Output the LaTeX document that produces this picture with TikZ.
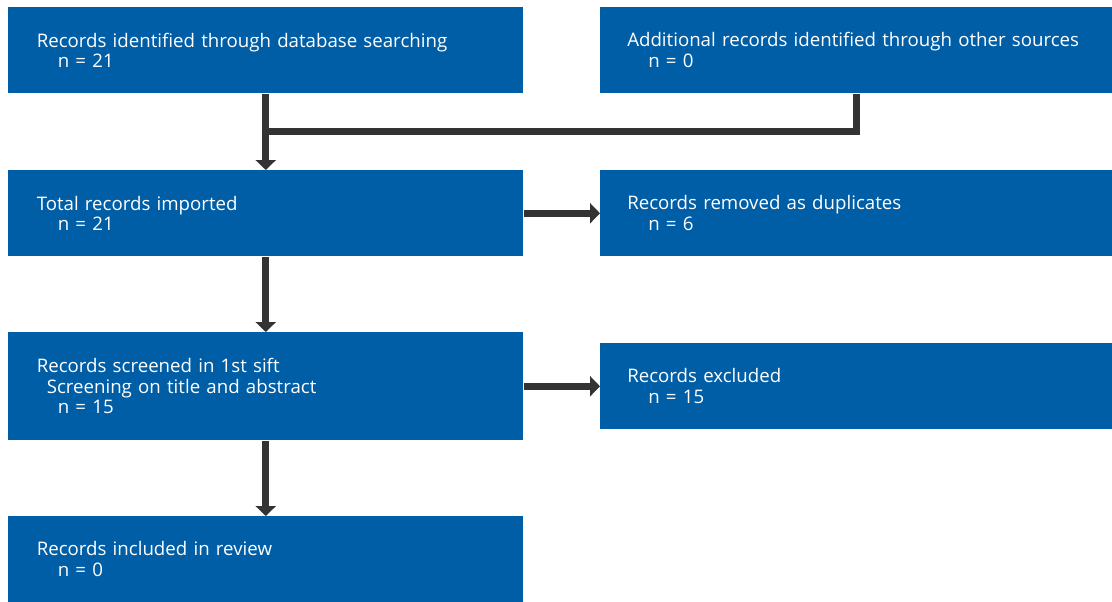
\documentclass[tikz,border=0pt]{standalone}
\usepackage{fontspec}
\setmainfont{Open Sans}
\usetikzlibrary{arrows.meta,calc}

\definecolor{boxblue}{RGB}{0,94,166}
\definecolor{linegrey}{RGB}{51,51,51}

\tikzset{
	box/.style={shape=rectangle, fill=boxblue, text=white, anchor=north west, align=left,
		text width=343.5pt, inner xsep=20.25pt, inner ysep=0pt, minimum height=64.5pt,
		font=\fontsize{14}{15.5}\selectfont},
	leftbox/.style={box, minimum width=386.25pt},
	rightbox/.style={box},
	line/.style={draw=linegrey, line width=5.25pt},
	arrow/.style={line, -{Triangle[width=15pt,length=7.5pt]}}
}

\begin{document}
\begin{tikzpicture}[x=0.75pt, y=-0.75pt]
	\useasboundingbox (0,0) rectangle (1112,601);
	\draw (8,7) node[leftbox](ident){Records identified through database searching\\\hspace*{15.75pt}n = 21};
	\draw (600,7) node[rightbox](other){Additional records identified through other sources\\\hspace*{15.75pt}n = 0};
	\draw (8,170) node[leftbox](total){Total records imported\\\hspace*{15.75pt}n = 21};
	\draw (600,170) node[rightbox](dupl){Records removed as duplicates\\\hspace*{15.75pt}n = 6};
	\draw (8,332) node[leftbox, minimum height=81pt](screen){Records screened in 1st sift\\\hspace*{7.5pt}Screening on title and abstract\\\hspace*{15.75pt}n = 15};
	\draw (600,343) node[rightbox](excl){Records excluded\\\hspace*{15.75pt}n = 15};
	\draw (8,516) node[leftbox](incl){Records included in review\\\hspace*{15.75pt}n = 0};
	
	\coordinate (join) at ($(ident.south)!0.5!(total.north)$);
	
	\draw [arrow](ident) -- (total);
	\draw [line](other.south) |- (join);
	\draw [arrow](total) -- (dupl);
	\draw [arrow](total) -- (screen);
	\draw [arrow](screen.east) -- (screen.east -| excl.west);
	\draw [arrow](screen) -- (incl);
\end{tikzpicture}
\end{document}
